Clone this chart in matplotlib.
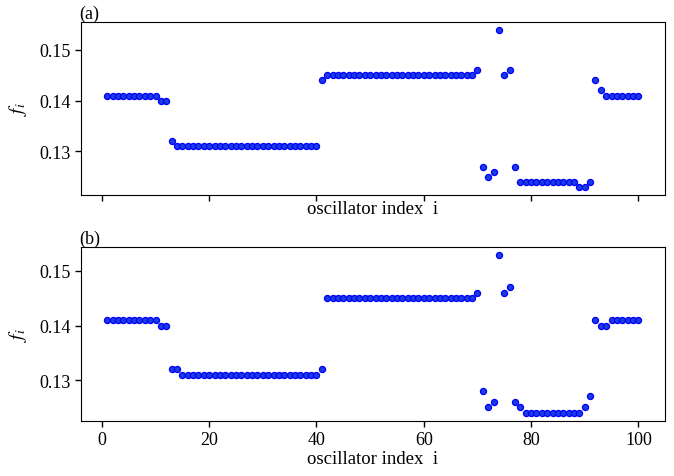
import matplotlib
matplotlib.use('Agg')
import matplotlib.pyplot as plt
import numpy as np

plt.rcParams['font.family'] = ['Liberation Serif', 'DejaVu Serif']
plt.rcParams['mathtext.fontset'] = 'stix'

# oscillator indices 1..100
idx = np.arange(1, 101)

# (a) frequencies
freq_a = ([0.141] * 10 + [0.140] * 2 + [0.132] + [0.131] * 27 + [0.144]
          + [0.145] * 28 + [0.146]
          + [0.127, 0.125, 0.126, 0.154, 0.145, 0.146, 0.127]
          + [0.124] * 11 + [0.123] * 2 + [0.124]
          + [0.144, 0.142] + [0.141] * 7)

# (b) frequencies
freq_b = ([0.141] * 10 + [0.140] * 2 + [0.132] * 2 + [0.131] * 26 + [0.132]
          + [0.145] * 28 + [0.146]
          + [0.128, 0.125, 0.126, 0.153, 0.146, 0.147, 0.126, 0.125]
          + [0.124] * 11 + [0.125, 0.127]
          + [0.141, 0.140, 0.140] + [0.141] * 6)

panels = [("(a)", freq_a), ("(b)", freq_b)]

fig = plt.figure(figsize=(6.74, 4.77), dpi=100)
ax_top = fig.add_axes([0.1197, 0.5897, 0.8669, 0.3627])
ax_bot = fig.add_axes([0.1197, 0.1159, 0.8669, 0.3648], sharex=ax_top)

for ax, (tag, f) in zip([ax_top, ax_bot], panels):
    ax.plot(idx, f, 'o', ls='none', ms=4.4, mfc='#1a3ce0', mec='#0000ff', mew=0.9)
    ax.set_ylabel(r'$f_i$', fontsize=14, labelpad=7)
    ax.set_xlabel('oscillator index  i', fontsize=13.5, labelpad=1)
    ax.set_title(tag, loc='left', fontsize=13, pad=3, x=-0.003)
    ax.set_yticks([0.13, 0.14, 0.15])
    ax.tick_params(direction='out', length=4, width=1, labelsize=13)
    ax.set_xticks([0, 20, 40, 60, 80, 100])

ax_top.tick_params(labelbottom=False)
ax_top.xaxis.labelpad = 0

fig.savefig('out.png', dpi=100)
